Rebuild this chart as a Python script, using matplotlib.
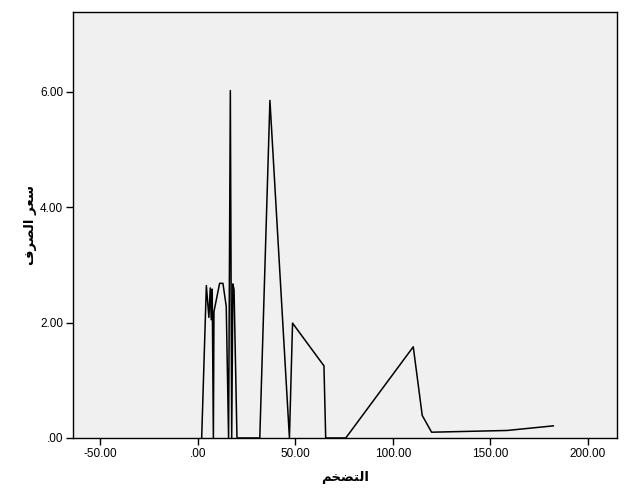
import matplotlib
matplotlib.use("Agg")
import matplotlib.pyplot as plt

# inflation (x) vs exchange rate (y)
inflation = [2.0, 4.4, 5.7, 6.4, 6.9, 7.4, 8.0, 8.3, 11.2, 12.9, 14.6, 15.8, 16.7, 17.4,
             18.0, 18.6, 20.1, 31.8, 37.0, 47.0, 48.6, 64.7, 65.6, 75.9, 110.5, 115.1,
             119.9, 158.6, 182.3]
rate = [0.0, 2.64, 2.09, 2.60, 2.05, 2.58, 0.0, 2.19, 2.68, 2.68, 2.28, 0.0, 6.02, 0.0,
        2.67, 2.57, 0.0, 0.0, 5.85, 0.0, 1.99, 1.25, 0.0, 0.0, 1.58, 0.39,
        0.10, 0.13, 0.21]
xticks = [-50, 0, 50, 100, 150, 200]
yticks = [0, 2, 4, 6]

# arabic labels, pre-shaped (presentation forms, visual order)
xlabel = "\uFEE2\uFEA8\uFEC0\uFE98\uFEDF\uFE8D"          # التضخم
ylabel = "\uFED1\uFEAE\uFEBC\uFEDF\uFE8D \uFEAE\uFECC\uFEB3"  # سعر الصرف


def fmt(v):
    s = "%.2f" % v
    if s.startswith("0."):
        s = s[1:]
    return s


fig = plt.figure(figsize=(6.29, 5.04), dpi=100)
ax = fig.add_axes([0.116, 0.131, 0.865, 0.845])
ax.set_facecolor("#f0f0f0")
ax.plot(inflation, rate, color="black", linewidth=1.1)

ax.set_xlim(-64, 215)
ax.set_ylim(0, 7.38)
ax.set_xticks(xticks)
ax.set_yticks(yticks)
ax.set_xticklabels([fmt(v) for v in xticks], fontsize=8.5, family="Liberation Sans")
ax.set_yticklabels([fmt(v) for v in yticks], fontsize=8.5, family="Liberation Sans")
ax.tick_params(direction="out", length=5, width=1, colors="black", pad=2)
for s in ax.spines.values():
    s.set_color("black")
    s.set_linewidth(1)

ax.set_xlabel(xlabel, fontsize=9.5, fontweight="bold", family="DejaVu Sans", labelpad=8)
ax.set_ylabel(ylabel, fontsize=9.5, fontweight="bold", family="DejaVu Sans", labelpad=2)

fig.savefig("out.png", dpi=100)
